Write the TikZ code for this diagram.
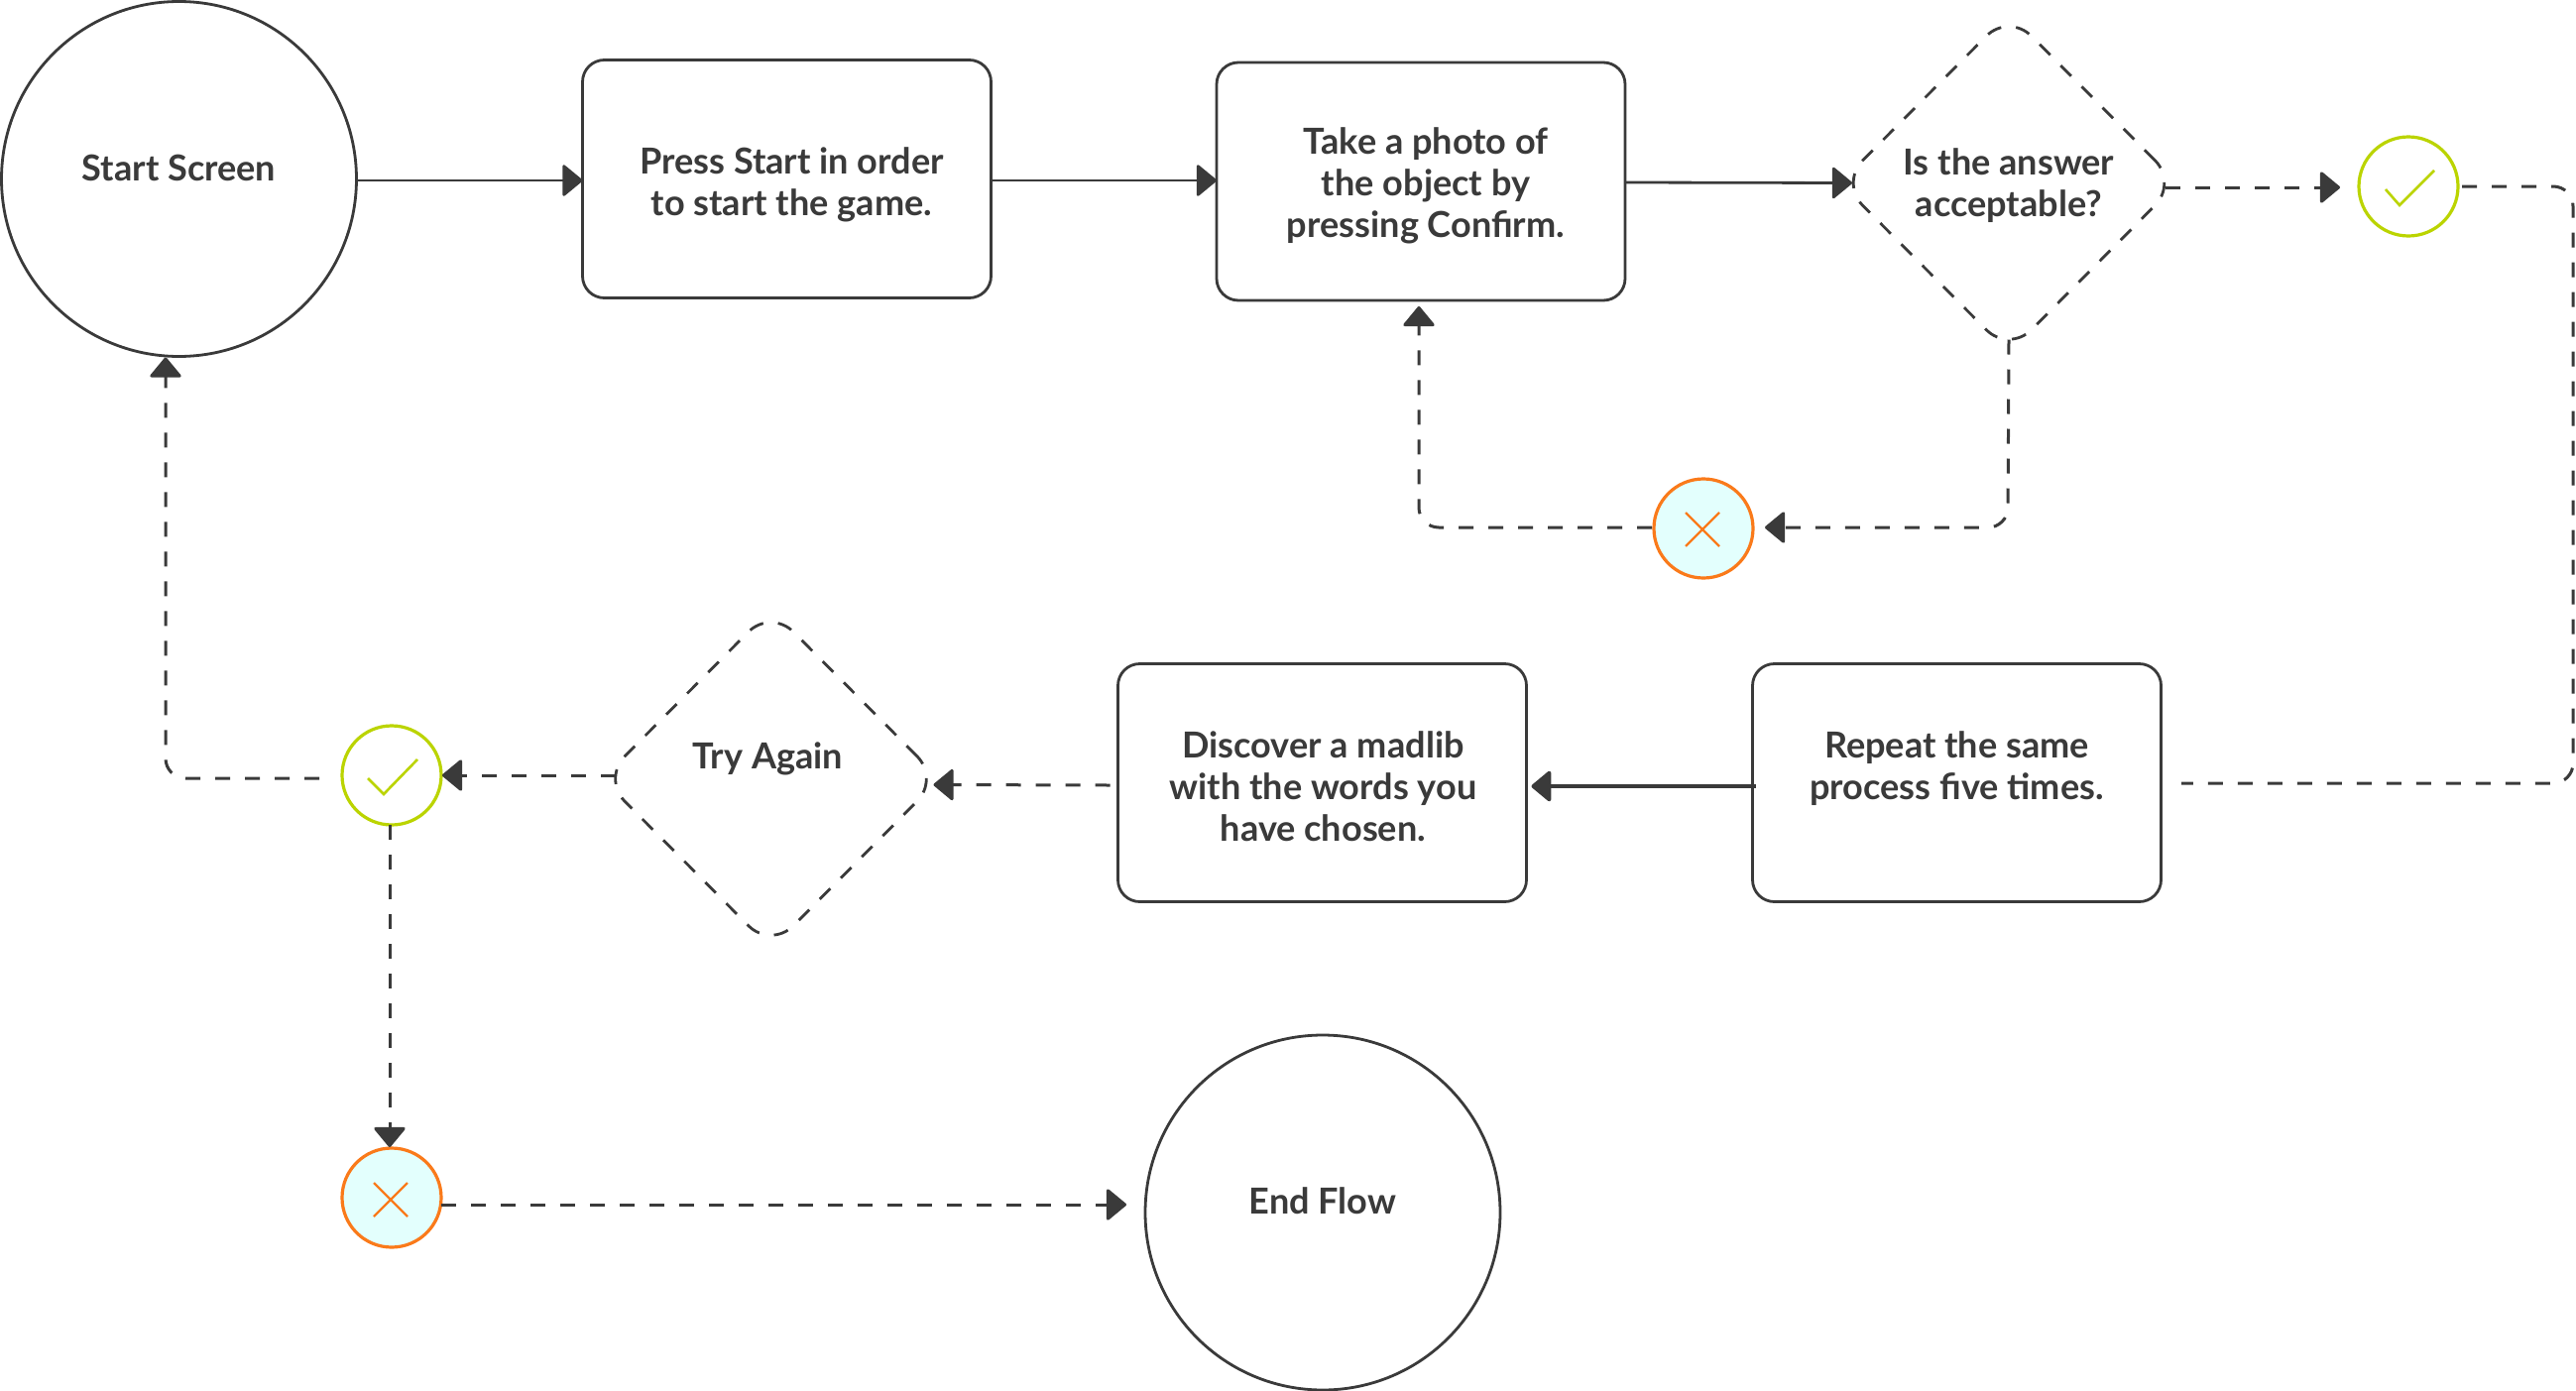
\documentclass[tikz,border=0pt]{standalone}
\usepackage{fontspec}
\setmainfont{Lato}
\usetikzlibrary{arrows.meta,shapes.geometric,calc}
\definecolor{ink}{HTML}{3A3A3A}
\definecolor{okline}{HTML}{BBD400}
\definecolor{noline}{HTML}{FA7A1A}
\definecolor{nofill}{HTML}{E3FFFD}
\tikzset{
  lab/.style={font=\fontsize{18.05}{21}\selectfont\bfseries,text=ink,align=center,inner sep=0pt},
  outline/.style={draw=ink,line width=1.4pt,inner sep=0pt,outer sep=0pt,fill=white},
  roundcircle/.style={outline,circle,minimum size=179pt},
  stepbox/.style={outline,rectangle,rounded corners=11pt,minimum width=206pt,minimum height=120pt},
  question/.style={outline,diamond,shape aspect=1,rounded corners=16pt,dash pattern=on 7.5pt off 7.5pt,minimum width=170pt,minimum height=171pt},
  okcircle/.style={draw=okline,line width=1.6pt,fill=white,circle,inner sep=0pt,outer sep=0pt,minimum size=50pt},
  nocircle/.style={draw=noline,line width=1.6pt,fill=nofill,circle,inner sep=0pt,outer sep=0pt,minimum size=50pt},
  okmark/.style={draw=okline,line width=1.3pt},
  nomark/.style={draw=noline,line width=1.1pt},
  flow/.style={draw=ink,line width=1.4pt,-{Triangle[length=10.5pt,width=17pt,round,fill=ink]}},
  dashflow/.style={flow,line width=1.5pt,dash pattern=on 7.5pt off 7.5pt},
  dashplain/.style={draw=ink,line width=1.5pt,dash pattern=on 7.5pt off 7.5pt},
}
\begin{document}
\begin{tikzpicture}[x=0.5pt,y=-0.5pt]
\useasboundingbox (0,0) rectangle (2598,1403);
% shapes
\node[roundcircle,label={[lab,yshift=5.5pt]center:Start Screen}] (start) at (180.5,180.5) {};
\node[stepbox,label={[lab,xshift=2.5pt,yshift=-3pt]center:Press Start in order\\to start the game.}] (press) at (793.5,180.5) {};
\node[stepbox,label={[lab,xshift=2.5pt,yshift=-2pt]center:Take a photo of\\the object by\\pressing Confirm.}] (photo) at (1433,183) {};
\node[question,label={[lab,yshift=-1.5pt]center:Is the answer\\acceptable?}] (answer) at (2026,184.5) {};
\node[okcircle] (okA) at (2429,188) {};
\node[nocircle] (noA) at (1718,533) {};
\node[stepbox,label={[lab,yshift=7pt]center:Repeat the same\\process five times.}] (repeat) at (1973.5,789.5) {};
\node[stepbox,label={[lab,xshift=.5pt,yshift=-1.75pt]center:Discover a madlib\\with the words you\\have chosen.}] (madlib) at (1333.5,789.5) {};
\node[question,label={[lab,xshift=-1.5pt,yshift=10pt]center:Try Again}] (again) at (777.5,785.5) {};
\node[okcircle] (okB) at (395,782) {};
\node[nocircle] (noB) at (395,1208) {};
\node[roundcircle,label={[lab,yshift=6pt]center:End Flow}] (finish) at (1334,1223) {};
% marks
\draw[okmark] ($(okA)+(-23,3)$) -- ($(okA)+(-9,19)$) -- ($(okA)+(26,-16)$);
\draw[okmark] ($(okB)+(-24,3)$) -- ($(okB)+(-8,19)$) -- ($(okB)+(26,-16)$);
\foreach \n/\dx/\dy in {noA/-1/1,noB/-1/2}{
  \draw[nomark] ($(\n)+(\dx-17,\dy-17)$) -- ($(\n)+(\dx+17,\dy+17)$);
  \draw[nomark] ($(\n)+(\dx+17,\dy-17)$) -- ($(\n)+(\dx-17,\dy+17)$);
}
% free points
\coordinate (topright) at (2595,188);
\coordinate (botright) at (2595,790);
\coordinate (repeatend) at (2200,790);
\coordinate (lowA) at (2025,532);
\coordinate (lowB) at (1431,532);
\coordinate (leftlow) at (167,785);
% connectors
\draw[flow] ([yshift=-.75pt]start.east) -- ([yshift=-.75pt]press.west);
\draw[flow] ([yshift=-.75pt]press.east) -- ([yshift=.5pt]photo.west);
\draw[flow] ([yshift=-.5pt]photo.east) -- ([xshift=6pt]answer.west);
\draw[dashflow] ([xshift=-6pt,yshift=-2.25pt]answer.east) -- ([xshift=-9.5pt,yshift=-.5pt]okA.west);
\draw[dashplain,rounded corners=10pt] ([xshift=2pt]okA.east) -- (topright) -- (botright) -- (repeatend);
\draw[dashflow,rounded corners=10pt] ([yshift=6.5pt]answer.south) -- (lowA) -- ([xshift=6pt,yshift=.5pt]noA.east);
\draw[dashflow,rounded corners=10pt] ([xshift=-1pt,yshift=.5pt]noA.west) -- (lowB) -- ([xshift=-1pt,yshift=-3pt]photo.south);
\draw[flow,line width=1.9pt] ([xshift=1.5pt,yshift=-1.75pt]repeat.west) -- ([xshift=2.5pt,yshift=-1.75pt]madlib.east);
\draw[dashflow] ([xshift=-4pt,yshift=-1.25pt]madlib.west) -- ([xshift=-3pt,yshift=-3pt]again.east);
\draw[dashflow] ([xshift=6.5pt,yshift=1.75pt]again.west) -- ([xshift=.5pt]okB.east);
\draw[dashflow,rounded corners=10pt] ([xshift=-11.5pt,yshift=-1.5pt]okB.west) -- (leftlow) -- ([yshift=-.5pt]start.south -| leftlow);
\draw[dashflow] ([xshift=-1pt]okB.south) -- ([xshift=-1pt,yshift=.5pt]noB.north);
\draw[dashflow] ([yshift=-3.5pt]noB.east) -- ([xshift=-9.5pt,yshift=4pt]finish.west);
\end{tikzpicture}
\end{document}
